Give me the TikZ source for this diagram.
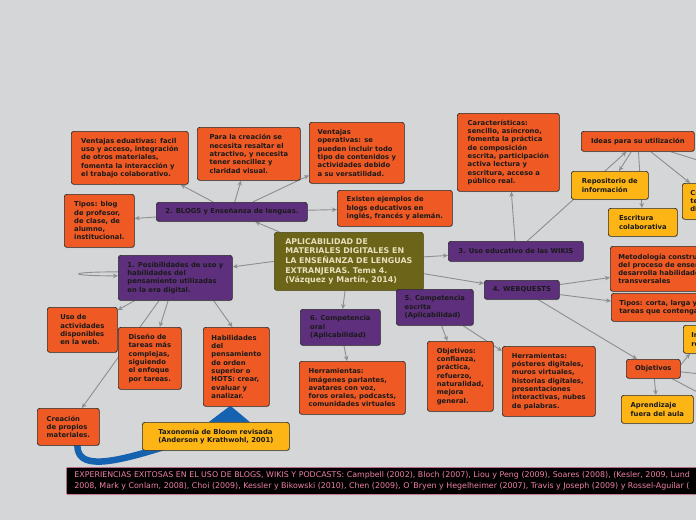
\documentclass[tikz,border=0pt]{standalone}
\usepackage{fontspec}
\setmainfont{DejaVu Sans}
\usetikzlibrary{arrows.meta,shadows}

\definecolor{fondo}{HTML}{D5D6D8}
\definecolor{naranja}{HTML}{EF5A24}
\definecolor{morado}{HTML}{5E2F7D}
\definecolor{oliva}{HTML}{6B6419}
\definecolor{amarillo}{HTML}{FDB515}
\definecolor{azul}{HTML}{1562B0}
\definecolor{rosa}{HTML}{EE7FA6}
\definecolor{gris}{HTML}{8D8E90}
\definecolor{borde}{HTML}{2B2B2B}
\definecolor{crema}{HTML}{E8E0BC}
\definecolor{texto}{HTML}{1A1A1A}

\pgfdeclarelayer{ramas}
\pgfsetlayers{ramas,main}

\tikzset{
  caja/.style={draw=borde, line width=0.7pt, rounded corners=2.5pt, anchor=north west,
    align=left, inner xsep=8pt, inner ysep=3pt, text=texto,
    font=\fontsize{6.8}{8.3}\selectfont\bfseries,
    drop shadow={shadow xshift=0.6pt, shadow yshift=-0.8pt, opacity=0.3}},
  tam/.style 2 args={minimum width=#1pt, minimum height=#2pt},
  tarea/.style={caja, fill=naranja},
  tema/.style={caja, fill=morado},
  idea/.style={caja, fill=amarillo},
  linea/.style={draw=gris, line width=0.9pt},
  rama/.style={linea, -{Stealth[length=5pt,width=4.5pt]}},
}

\begin{document}
\begin{tikzpicture}[x=1pt, y=-1pt]
    \useasboundingbox (0,0) rectangle (696,520);

    % Tema central
    \node[caja, fill=oliva, draw=oliva!70!black, text=crema, font=\fontsize{7.9}{9.6}\selectfont\bfseries, tam={149}{58}] (titulo) at (274,232)
        {APLICABILIDAD DE\\MATERIALES DIGITALES EN\\LA ENSEÑANZA DE LENGUAS\\EXTRANJERAS. Tema 4.\\(Vázquez y Martín, 2014)};

    % 2. Blogs
    \node[tema, tam={151}{19}] (blogs) at (156,202) {2. BLOGS y Enseñanza de lenguas.};
    \node[tarea, tam={117}{53}] (ventEdu) at (71,131) {Ventajas eduativas: facil\\uso y acceso, integración\\de otros materiales,\\fomenta la interacción y\\el trabajo colaborativo.};
    \node[tarea, tam={103}{53}] (creacion) at (197,127) {Para la creación se\\necesita resaltar el\\atractivo, y necesita\\tener sencillez y\\claridad visual.};
    \node[tarea, tam={95}{61}] (ventOp) at (309,122) {Ventajas\\operativas: se\\pueden incluir todo\\tipo de contenidos y\\actividades debido\\a su versatilidad.};
    \node[tarea, tam={115}{36}] (existen) at (337,190) {Existen ejemplos de\\blogs educativos en\\inglés, francés y alemán.};
    \node[tarea, tam={70}{53}] (tipos) at (64,194) {Tipos: blog\\de profesor,\\de clase, de\\alumno,\\institucional.};

    % 1. Posibilidades de uso
    \node[tema, tam={114}{45}] (posib) at (118,255) {1. Posibilidades de uso y\\habilidades del\\pensamiento utilizadas\\en la era digital.};
    \node[tarea, tam={70}{45}] (usoAct) at (47,307) {Uso de\\actividades\\disponibles\\en la web.};
    \node[tarea, tam={63}{62}] (diseno) at (118,327) {Diseño de\\tareas más\\complejas,\\siguiendo\\el enfoque\\por tareas.};
    \node[tarea, tam={66}{79}] (habil) at (203,327) {Habilidades\\del\\pensamiento\\de orden\\superior o\\HOTS: crear,\\evaluar y\\analizar.};
    \node[tarea, tam={62}{37}] (creaMat) at (37,408) {Creación\\de propios\\materiales.};
    \node[idea, tam={147}{28}] (taxo) at (142,422) {Taxonomía de Bloom revisada\\(Anderson y Krathwohl, 2001)};

    % 3. Wikis
    \node[tema, tam={135}{20}] (wikis) at (448,241) {3. Uso educativo de las WIKIS};
    \node[tarea, tam={102}{78}] (caract) at (457,113) {Características:\\sencillo, asíncrono,\\fomenta la práctica\\de composición\\escrita, participación\\activa lectura y\\escritura, acceso a\\público real.};
    \node[tarea, tam={113}{20}] (ideas) at (581,131) {Ideas para su utilización};
    \node[idea, tam={77}{28}] (repo) at (571,171) {Repositorio de\\información};
    \node[idea, tam={69}{28}] (escrit) at (608,208) {Escritura\\colaborativa};
    \node[idea, minimum height=36pt] (cDer) at (682,183) {Creación de\\textos\\digitales};

    % 4. Webquests
    \node[tema, tam={75}{19}] (webq) at (484,280) {4. WEBQUESTS};
    \node[tarea, minimum height=45pt] (metod) at (610,246) {Metodología constructivista\\del proceso de enseñanza,\\desarrolla habilidades\\transversales};
    \node[tarea, minimum height=28pt] (tiposW) at (611,293) {Tipos: corta, larga y\\tareas que contengan};
    \node[idea, minimum height=28pt] (iDer) at (683,325) {Interacción\\real};
    \node[tarea, tam={54}{19}] (objW) at (626,359) {Objetivos};
    \node[idea, tam={72}{28}] (aprend) at (621,395) {Aprendizaje\\fuera del aula};

    % 5. y 6. Competencias
    \node[tema, tam={77}{36}] (comp5) at (396,289) {5. Competencia\\escrita\\(Aplicabilidad)};
    \node[tema, tam={80}{36}] (comp6) at (300,309) {6. Competencia\\oral\\(Aplicabilidad)};
    \node[tarea, tam={106}{53}] (herr6) at (299,361) {Herramientas:\\imágenes parlantes,\\avatares con voz,\\foros orales, podcasts,\\comunidades virtuales};
    \node[tarea, tam={66}{70}] (obj5) at (427,341) {Objetivos:\\confianza,\\práctica,\\refuerzo,\\naturalidad,\\mejora\\general.};
    \node[tarea, tam={93}{70}] (herr5) at (502,346) {Herramientas:\\pósteres digitales,\\muros virtuales,\\historias digitales,\\presentaciones\\interactivas, nubes\\de palabras.};

    % Pie con las experiencias
    \node[caja, fill=black, draw=rosa, text=rosa, rounded corners=1pt, minimum height=27pt,
        font=\fontsize{7.9}{11}\selectfont] (pie) at (66,467)
        {EXPERIENCIAS EXITOSAS EN EL USO DE BLOGS, WIKIS Y PODCASTS: Campbell (2002), Bloch (2007), Liou y Peng (2009), Soares (2008), (Kesler, 2009, Lund\\2008, Mark y Conlam, 2008), Choi (2009), Kessler y Bikowski (2010), Chen (2009), O´Bryen y Hegelheimer (2007), Travis y Joseph (2009) y Rossel-Aguilar (};

    % Extremos que salen del dibujo
    \coordinate (fueraA) at (710,164);
    \coordinate (fueraB) at (720,376);
    \coordinate (fueraC) at (720,404);

    \begin{pgfonlayer}{ramas}
        \fill[fondo] (0,0) rectangle (696,520);

        % Ramas del tema central
        \draw[rama] (titulo) -- (blogs);
        \draw[rama] (titulo.west) -- ([yshift=11pt]posib.east);
        \draw[rama] (titulo) -- (wikis);
        \draw[rama] (titulo) -- (webq);
        \draw[rama] (titulo) -- (comp6);

        % Blogs
        \draw[rama] (blogs) -- (ventEdu);
        \draw[rama] (blogs) -- (creacion);
        \draw[rama] (blogs) -- (ventOp);
        \draw[rama] (blogs) -- (existen);
        \draw[rama] (blogs) -- (tipos);

        % Posibilidades
        \draw[rama] ([yshift=6pt]posib.west) .. controls ([xshift=-52pt,yshift=6pt]posib.west) and ([xshift=-52pt,yshift=2pt]posib.west) .. ([yshift=2pt]posib.west);
        \draw[rama] (posib) -- (usoAct);
        \draw[rama] (posib) -- (diseno);
        \draw[rama] (posib) -- (creaMat);
        \draw[rama] ([xshift=-19pt]posib.south east) -- ([xshift=-4pt]habil.north);

        % Relación de la taxonomía
        \draw[azul, line width=6.5pt] ([xshift=9pt]creaMat.center) -- ([xshift=9pt]creaMat.south) .. controls (78,468) and (105,466) .. (170,445);
        \fill[azul] ([xshift=-6pt,yshift=1pt]habil.south) -- ([xshift=-7pt]taxo.north) -- ([xshift=34pt]taxo.north) -- cycle;

        % Wikis
        \draw[rama] (wikis) -- (caract);
        \draw[rama] (wikis) -- (ideas);
        \draw[rama] (ideas) -- (repo);
        \draw[rama] (ideas) -- (escrit);
        \draw[rama] (ideas) -- (cDer);
        \draw[linea] (ideas) -- (fueraA);

        % Webquests
        \draw[rama] (webq) -- (metod);
        \draw[rama] (webq) -- (tiposW);
        \draw[rama] (webq) -- (objW);
        \draw[rama] ([yshift=4pt]objW.east) -- ([xshift=7pt]iDer.south west);
        \draw[linea] ([yshift=-3pt]objW.east) -- (fueraB);
        \draw[linea] (objW) -- (fueraC);
        \draw[rama] (objW) -- (aprend);

        % Competencias
        \draw[rama] (comp5) -- (obj5);
        \draw[rama] (comp5) -- (herr5);
        \draw[rama] (comp6) -- (herr6);
    \end{pgfonlayer}
\end{tikzpicture}
\end{document}
